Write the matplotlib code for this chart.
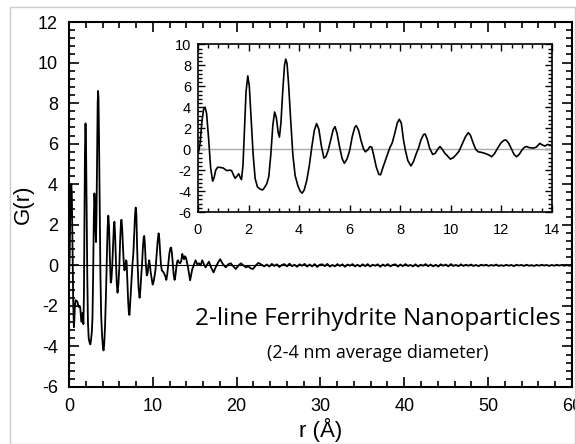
import numpy as np
import matplotlib
matplotlib.use("Agg")
import matplotlib.pyplot as plt
from matplotlib.ticker import MultipleLocator
from matplotlib.patches import Rectangle

plt.rcParams['font.family'] = ['Liberation Sans', 'DejaVu Sans']
plt.rcParams['axes.unicode_minus'] = False

# G(r), 0-14 A
r_low = [0.02, 0.08, 0.15, 0.22, 0.28, 0.34, 0.42, 0.50, 0.58, 0.64, 0.70, 0.78, 0.90, 1.00,
         1.08, 1.15, 1.25, 1.33, 1.40, 1.47, 1.55, 1.61, 1.67, 1.72, 1.78, 1.84, 1.90, 1.97,
         2.03, 2.10, 2.18, 2.26, 2.35, 2.45, 2.55, 2.62, 2.72, 2.80, 2.88, 2.96, 3.03, 3.10,
         3.17, 3.22, 3.28, 3.35, 3.42, 3.47, 3.52, 3.58, 3.66, 3.75, 3.84, 3.95, 4.05, 4.12,
         4.20, 4.30, 4.40, 4.50, 4.60, 4.69, 4.78, 4.88, 4.98, 5.06, 5.15, 5.25, 5.35, 5.42,
         5.50, 5.60, 5.70, 5.79, 5.90, 6.00, 6.10, 6.20, 6.26, 6.35, 6.45, 6.55, 6.62, 6.72,
         6.80, 6.87, 6.95, 7.05, 7.15, 7.22, 7.32, 7.46, 7.58, 7.68, 7.78, 7.88, 7.96, 8.04,
         8.12, 8.20, 8.30, 8.42, 8.52, 8.62, 8.72, 8.82, 8.92, 8.98, 9.06, 9.16, 9.28, 9.38,
         9.48, 9.57, 9.66, 9.75, 9.85, 9.98, 10.10, 10.22, 10.32, 10.45, 10.58, 10.69, 10.78,
         10.88, 10.98, 11.08, 11.20, 11.35, 11.50, 11.61, 11.72, 11.85, 11.98, 12.10, 12.18,
         12.28, 12.40, 12.50, 12.60, 12.70, 12.82, 12.92, 13.00, 13.10, 13.26, 13.38, 13.52,
         13.62, 13.72, 13.82, 13.92, 14.00]
g_low = [-0.3, 0.5, 2.5, 3.8, 4.0, 3.4, 1.0, -1.8, -3.05, -2.7, -2.0, -1.72, -1.75, -1.8,
         -1.95, -2.05, -2.0, -2.05, -2.45, -2.78, -2.55, -2.35, -2.7, -2.9, -1.5, 2.0, 5.5, 7.0,
         6.0, 3.0, -0.5, -2.8, -3.6, -3.8, -3.9, -3.7, -3.3, -2.6, -0.5, 2.3, 3.55, 3.0,
         1.6, 1.15, 2.5, 5.5, 8.0, 8.6, 8.2, 6.3, 3.0, -0.5, -2.5, -3.5, -4.05, -4.2,
         -3.9, -3.0, -1.6, 0.2, 1.8, 2.45, 1.9, 0.3, -0.85, -0.7, -0.1, 0.9, 1.9, 2.15,
         1.5, 0.2, -0.9, -1.35, -0.9, -0.1, 1.2, 2.1, 2.25, 1.8, 0.8, 0.0, -0.25, -0.05,
         0.25, 0.2, -0.6, -1.7, -2.4, -2.45, -1.7, -0.72, 0.1, 0.6, 1.5, 2.5, 2.85, 2.5,
         1.0, -0.1, -1.1, -1.6, -1.2, -0.5, 0.1, 0.9, 1.4, 1.45, 1.0, 0.1, -0.5, -0.4,
         0.0, 0.25, 0.0, -0.35, -0.6, -0.95, -0.8, -0.5, -0.2, 0.5, 1.2, 1.58, 1.3,
         0.6, 0.0, -0.25, -0.3, -0.4, -0.55, -0.72, -0.45, 0.1, 0.6, 0.85, 0.88,
         0.6, 0.0, -0.5, -0.72, -0.5, -0.05, 0.2, 0.25, 0.15, 0.1, 0.2, 0.56,
         0.4, 0.3, 0.45, 0.4, 0.3]

# 14-23.3 A from the main panel
r_mid = [14.2, 14.45, 14.7, 15.1, 15.3, 15.5, 15.7, 15.9, 16.1, 16.3, 16.5, 16.7, 16.95,
         17.25, 17.5, 17.8, 18.05, 18.3, 18.7, 19.0, 19.3, 19.6, 19.9, 20.2, 20.5, 20.8,
         21.1, 21.4, 21.7, 21.95, 22.3, 22.6, 22.9, 23.3]
g_mid = [-0.1, -0.74, -0.2, 0.25, 0.05, 0.1, 0.0, 0.25, 0.05, -0.1, 0.05, 0.18, -0.1,
         -0.35, -0.1, 0.15, 0.3, 0.1, -0.1, 0.05, 0.1, -0.05, -0.18, -0.02, 0.1, 0.0,
         -0.1, -0.05, -0.15, -0.18, 0.0, 0.12, 0.05, -0.05]

# noisy tail 23.6-60 A
g_tail = [0.04, -0.06, 0.07, -0.03, 0.05, -0.08, 0.02, 0.06, -0.05, 0.08, -0.04, 0.03,
          -0.07, 0.05, -0.02, 0.07, -0.06, 0.04, -0.05, 0.06, -0.08, 0.03, 0.05, -0.04,
          0.07, -0.06, 0.02, -0.05, 0.06, -0.03, 0.05, -0.07, 0.04, -0.02, 0.06, -0.05,
          0.03, -0.06,
          0.05, -0.04, 0.06, -0.06, 0.03, -0.02, 0.05, -0.07, 0.04, -0.03, 0.06, -0.05,
          0.02, 0.05, -0.06, 0.04, -0.04, 0.06, -0.03, 0.02, -0.05, 0.05, -0.06, 0.03,
          -0.02, 0.06, -0.04, 0.04, -0.05, 0.03, -0.06, 0.05, -0.02, 0.04, -0.05, 0.06,
          -0.03, 0.02, -0.04, 0.05,
          -0.03, 0.03, -0.02, 0.04, -0.03, 0.02, -0.04, 0.03, -0.01, 0.03, -0.03, 0.02,
          -0.02, 0.04, -0.03, 0.01, -0.03, 0.03, -0.02, 0.02, -0.04, 0.03, -0.01, 0.02,
          -0.03, 0.03, -0.02, 0.01, -0.03, 0.02, -0.02, 0.03, -0.01, 0.02, -0.03, 0.02,
          -0.02, 0.03, -0.01, 0.02, -0.02, 0.01, -0.02, 0.01]
r_tail = np.linspace(23.6, 60.0, len(g_tail))

r_all = np.concatenate([r_low, r_mid, r_tail])
g_all = np.concatenate([g_low, g_mid, g_tail])

fig = plt.figure(figsize=(5.76, 4.44), dpi=100)
fig.patches.append(Rectangle((10 / 576, 0), 565 / 576, 1 - 7 / 444, transform=fig.transFigure,
                             fill=False, edgecolor='#cccccc', lw=1.0))

ax = fig.add_axes([0.1198, 0.1284, 0.873, 0.822])
ax.axhline(0, color='black', lw=0.8)
ax.plot(r_all, g_all, color='black', lw=1.3)
ax.set_xlim(0, 60)
ax.set_ylim(-6, 12)
ax.xaxis.set_major_locator(MultipleLocator(10))
ax.xaxis.set_minor_locator(MultipleLocator(2))
ax.yaxis.set_major_locator(MultipleLocator(2))
ax.yaxis.set_minor_locator(MultipleLocator(0.4))
ax.tick_params(which='both', direction='in', top=True, right=True, width=1.2,
               labelsize=13, pad=8)
ax.tick_params(which='major', length=7)
ax.tick_params(which='minor', length=4)
for s in ax.spines.values():
    s.set_linewidth(1.5)
ax.set_ylabel('G(r)', fontsize=16, labelpad=3)
ax.set_xlabel('r (Å)', fontsize=16, labelpad=2)

ax.text(0.614, 0.186, '2-line Ferrihydrite Nanoparticles', transform=ax.transAxes,
        ha='center', va='center', fontsize=17.5, family=['Open Sans', 'DejaVu Sans'])
ax.text(0.614, 0.094, '(2-4 nm average diameter)', transform=ax.transAxes,
        ha='center', va='center', fontsize=13, family=['Open Sans', 'DejaVu Sans'])

ins = fig.add_axes([0.34375, 0.5225, 0.6146, 0.3773])
ins.axhline(0, color='#aaaaaa', lw=1.0)
ins.plot(r_low, g_low, color='black', lw=1.2)
ins.set_xlim(0, 14)
ins.set_ylim(-6, 10)
ins.xaxis.set_major_locator(MultipleLocator(2))
ins.xaxis.set_minor_locator(MultipleLocator(0.4))
ins.yaxis.set_major_locator(MultipleLocator(2))
ins.yaxis.set_minor_locator(MultipleLocator(0.4))
ins.tick_params(which='both', direction='in', top=True, right=True, width=1.0,
                labelsize=10.5, pad=5)
ins.tick_params(axis='x', which='both', pad=8)
ins.tick_params(which='major', length=5)
ins.tick_params(which='minor', length=3)
for s in ins.spines.values():
    s.set_linewidth(1.2)

fig.savefig('out.png', dpi=100)
